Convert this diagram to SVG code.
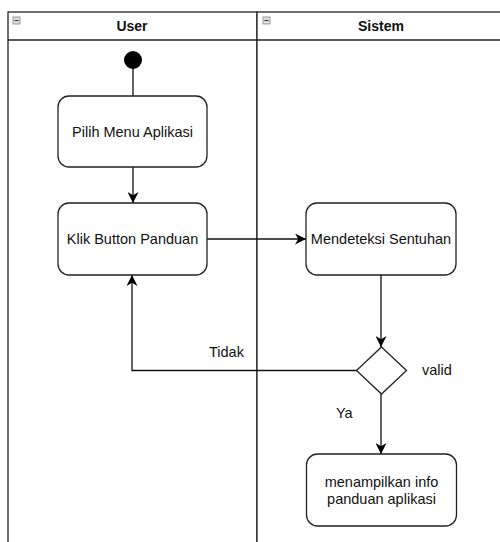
<svg xmlns="http://www.w3.org/2000/svg" width="500" height="542" viewBox="0 0 500 542">
<defs>
<marker id="arr" viewBox="0 0 10 10" refX="10" refY="5" markerWidth="11" markerHeight="11" orient="auto" markerUnits="userSpaceOnUse">
<path d="M0,0 L10,5 L0,10 L3,5 Z" fill="#000"/>
</marker>
<style>
.lane{fill:#fff;stroke:#222;stroke-width:1.3}
.hdr{font-family:"Liberation Sans",Arial,sans-serif;font-size:14px;font-weight:bold;fill:#111;text-anchor:middle}
.box{fill:#fff;stroke:#222;stroke-width:1.3}
.t{font-family:"Liberation Sans",Arial,sans-serif;font-size:14.5px;fill:#111;text-anchor:middle}
.lbl{font-family:"Liberation Sans",Arial,sans-serif;font-size:14.5px;fill:#111}
.c{fill:none;stroke:#111;stroke-width:1.3}
.ico{fill:#ddd;stroke:#888;stroke-width:0.8}
</style>
</defs>
<rect width="500" height="542" fill="#fff"/>
<g id="lane-user">
<rect class="lane" x="8" y="12" width="249" height="540"/>
<line x1="8" y1="40" x2="257" y2="40" stroke="#222" stroke-width="1.3"/>
<rect class="ico" x="13" y="17" width="7" height="7"/>
<line x1="14.5" y1="20.5" x2="18.5" y2="20.5" stroke="#333" stroke-width="1"/>
<text class="hdr" x="132" y="31">User</text>
</g>
<g id="lane-sistem">
<rect class="lane" x="257" y="12" width="260" height="540"/>
<line x1="257" y1="40" x2="517" y2="40" stroke="#222" stroke-width="1.3"/>
<rect class="ico" x="263" y="17" width="7" height="7"/>
<line x1="264.5" y1="20.5" x2="268.5" y2="20.5" stroke="#333" stroke-width="1"/>
<text class="hdr" x="381" y="31">Sistem</text>
</g>
<g id="connectors">
<line class="c" x1="133" y1="67" x2="133" y2="96"/>
<line class="c" x1="133" y1="167" x2="133" y2="203" marker-end="url(#arr)"/>
<line class="c" x1="207" y1="239" x2="306" y2="239" marker-end="url(#arr)"/>
<line class="c" x1="381" y1="275" x2="381" y2="347" marker-end="url(#arr)"/>
<polyline class="c" points="357,370.5 132,370.5 132,275" marker-end="url(#arr)"/>
<line class="c" x1="381" y1="394" x2="381" y2="454" marker-end="url(#arr)"/>
<text class="lbl" x="209" y="357">Tidak</text>
<text class="lbl" x="422" y="375">valid</text>
<text class="lbl" x="336" y="418">Ya</text>
</g>
<g id="start">
<circle cx="133" cy="60" r="9" fill="#000"/>
</g>
<g id="pilih-menu">
<rect class="box" x="58" y="96" width="149" height="71" rx="11"/>
<text class="t" x="132.5" y="137">Pilih Menu Aplikasi</text>
</g>
<g id="klik-button">
<rect class="box" x="58" y="203" width="149" height="72" rx="11"/>
<text class="t" x="132.5" y="244">Klik Button Panduan</text>
</g>
<g id="mendeteksi">
<rect class="box" x="306" y="203" width="150" height="72" rx="11"/>
<text class="t" x="381" y="244">Mendeteksi Sentuhan</text>
</g>
<g id="decision">
<polygon class="box" points="381.5,347 406.5,370.5 381.5,394 356.5,370.5"/>
</g>
<g id="menampilkan">
<rect class="box" x="306.5" y="454" width="150" height="72" rx="11"/>
<text class="t" x="381.5" y="487">menampilkan info</text>
<text class="t" x="381.5" y="504">panduan aplikasi</text>
</g>
</svg>
